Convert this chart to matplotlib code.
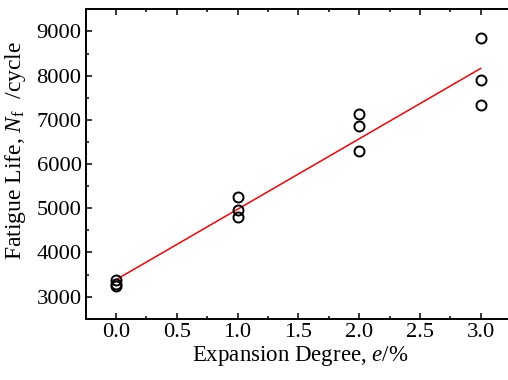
import numpy as np
import matplotlib
matplotlib.use("Agg")
import matplotlib.pyplot as plt
from matplotlib.ticker import MultipleLocator

plt.rcParams['font.family'] = ['Liberation Serif', 'DejaVu Serif']
plt.rcParams['mathtext.fontset'] = 'custom'
plt.rcParams['mathtext.rm'] = 'Liberation Serif'
plt.rcParams['mathtext.it'] = 'Liberation Serif:italic'

expansion = [0.0, 0.0, 0.0, 1.0, 1.0, 1.0, 2.0, 2.0, 2.0, 3.0, 3.0, 3.0]
fatigue_life = [3380, 3290, 3230, 5250, 4960, 4800, 7130, 6870, 6300, 8840, 7890, 7335]

x = np.array(expansion)
y = np.array(fatigue_life)
slope, intercept = np.polyfit(x, y, 1)
xf = np.array([x.min(), x.max()])

fig = plt.figure(figsize=(5.08, 3.8), dpi=100)
left, right = 0.1687, 1.012
ax = fig.add_axes([left, 0.1613, right - left, 0.8142])

ax.plot(xf, slope * xf + intercept, color='red', lw=1.1, zorder=2)
ax.plot(x, y, 'o', ms=7.2, mfc='none', mec='black', mew=1.4, zorder=3)

ax.set_xlim(-0.25, 3.25 * 1.0 + (right - 1.006) * 508 / 121.4)
ax.set_ylim(2500, 9500)
ax.xaxis.set_minor_locator(MultipleLocator(0.25))
ax.yaxis.set_major_locator(MultipleLocator(1000))
ax.yaxis.set_minor_locator(MultipleLocator(500))
ax.set_xticks([0, 0.5, 1.0, 1.5, 2.0, 2.5, 3.0])
ax.set_xticklabels(['0.0', '0.5', '1.0', '1.5', '2.0', '2.5', '3.0'])

ax.tick_params(which='both', direction='in', top=True, right=True, labelsize=16.2, width=1.1)
ax.tick_params(which='major', length=4.3, pad=3.0)
ax.tick_params(which='minor', length=2.3)
for s in ax.spines.values():
    s.set_linewidth(1.4)

ax.set_xlabel(r'Expansion Degree, $\mathit{e}$/%', fontsize=16.5, labelpad=1.5)
ax.set_ylabel(r'Fatigue Life, $\mathit{N}_{\mathrm{f}}$  /cycle', fontsize=17)
ax.yaxis.set_label_coords(-0.135, 0.545)

fig.savefig('out.png', dpi=100)
